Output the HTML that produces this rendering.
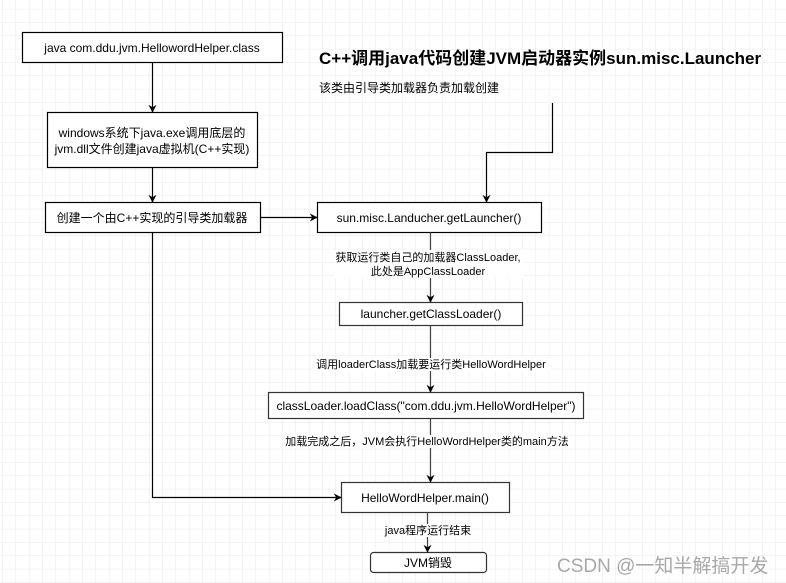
<!DOCTYPE html>
<html><head><meta charset="utf-8"><style>
html,body{margin:0;padding:0;background:#fff;}
svg{display:block;}
text{font-family:"Liberation Sans","Noto Sans CJK SC",sans-serif;fill:#000;}
</style></head><body>
<svg width="786" height="583" viewBox="0 0 786 583" xmlns="http://www.w3.org/2000/svg">
<defs>
<pattern id="g" x="2.7" y="-4" width="13.333" height="13.333" patternUnits="userSpaceOnUse">
<path d="M13.333 0V13.333M0 13.333H13.333" stroke="#e8e8e8" stroke-width="1" fill="none"/>
</pattern>
<marker id="a" viewBox="0 0 10 10" refX="9" refY="5" markerWidth="8" markerHeight="8" orient="auto" markerUnits="userSpaceOnUse">
<path d="M0 0L10 5L0 10L3 5Z" fill="#000"/>
</marker>
</defs>
<rect width="786" height="583" fill="url(#g)"/>
<g fill="#fff" stroke="#000" stroke-width="1.2">
<rect x="22.5" y="32.5" width="260" height="30"/>
<rect x="47.5" y="112.5" width="210" height="55"/>
<rect x="45.5" y="202.5" width="215" height="30"/>
<rect x="317.5" y="202.5" width="224" height="30"/>
<rect x="339.5" y="302.5" width="183" height="23" stroke="#333"/>
<rect x="268.5" y="392.5" width="315" height="26" stroke="#333"/>
<rect x="341.5" y="482.5" width="168" height="30" stroke="#333"/>
<rect x="370.5" y="552.5" width="116" height="20" rx="3" stroke="#333"/>
</g>
<g stroke="#000" stroke-width="1.2" fill="none" marker-end="url(#a)">
<path d="M152.5 62.5V112"/>
<path d="M152.5 167.5V202"/>
<path d="M260.5 217.5H317"/>
<path d="M552.5 103V152.5H486.5V202"/>
<path d="M430.5 232.5V302" stroke="#444"/>
<path d="M430.5 325.5V392" stroke="#444"/>
<path d="M430.5 418.5V482" stroke="#444"/>
<path d="M152.5 232.5V497.5H341"/>
<path d="M427.5 512.5V552" stroke="#444"/>
</g>
<g font-size="12" text-anchor="middle">
<text x="152" y="52">java com.ddu.jvm.HellowordHelper.class</text>
<text x="152" y="137">windows系统下java.exe调用底层的</text>
<text x="152" y="153">jvm.dll文件创建java虚拟机(C++实现)</text>
<text x="152" y="222">创建一个由C++实现的引导类加载器</text>
<text x="429" y="222">sun.misc.Landucher.getLauncher()</text>
<text x="431" y="318">launcher.getClassLoader()</text>
<text x="426" y="410">classLoader.loadClass("com.ddu.jvm.HelloWordHelper")</text>
<text x="425" y="502">HelloWordHelper.main()</text>
<text x="428" y="567">JVM销毁</text>
</g>
<g font-size="11" text-anchor="middle">
<rect x="334" y="250" width="190" height="28" fill="#fff"/>
<text x="428" y="261">获取运行类自己的加载器ClassLoader,</text>
<text x="428" y="275">此处是AppClassLoader</text>
<rect x="314" y="358" width="236" height="13" fill="#fff"/>
<text x="431" y="368">调用loaderClass加载要运行类HelloWordHelper</text>
<rect x="286" y="435" width="282" height="13" fill="#fff"/>
<text x="427" y="445">加载完成之后，JVM会执行HelloWordHelper类的main方法</text>
<rect x="385" y="524" width="86" height="13" fill="#fff"/>
<text x="428" y="534">java程序运行结束</text>
</g>
<text x="319" y="64" font-size="17" font-weight="bold">C++调用java代码创建JVM启动器实例sun.misc.Launcher</text>
<text x="319" y="92" font-size="12">该类由引导类加载器负责加载创建</text>
<text x="557" y="572" font-size="19" style="fill:#a8a8a8">CSDN @一知半解搞开发</text>
</svg>
</body></html>
